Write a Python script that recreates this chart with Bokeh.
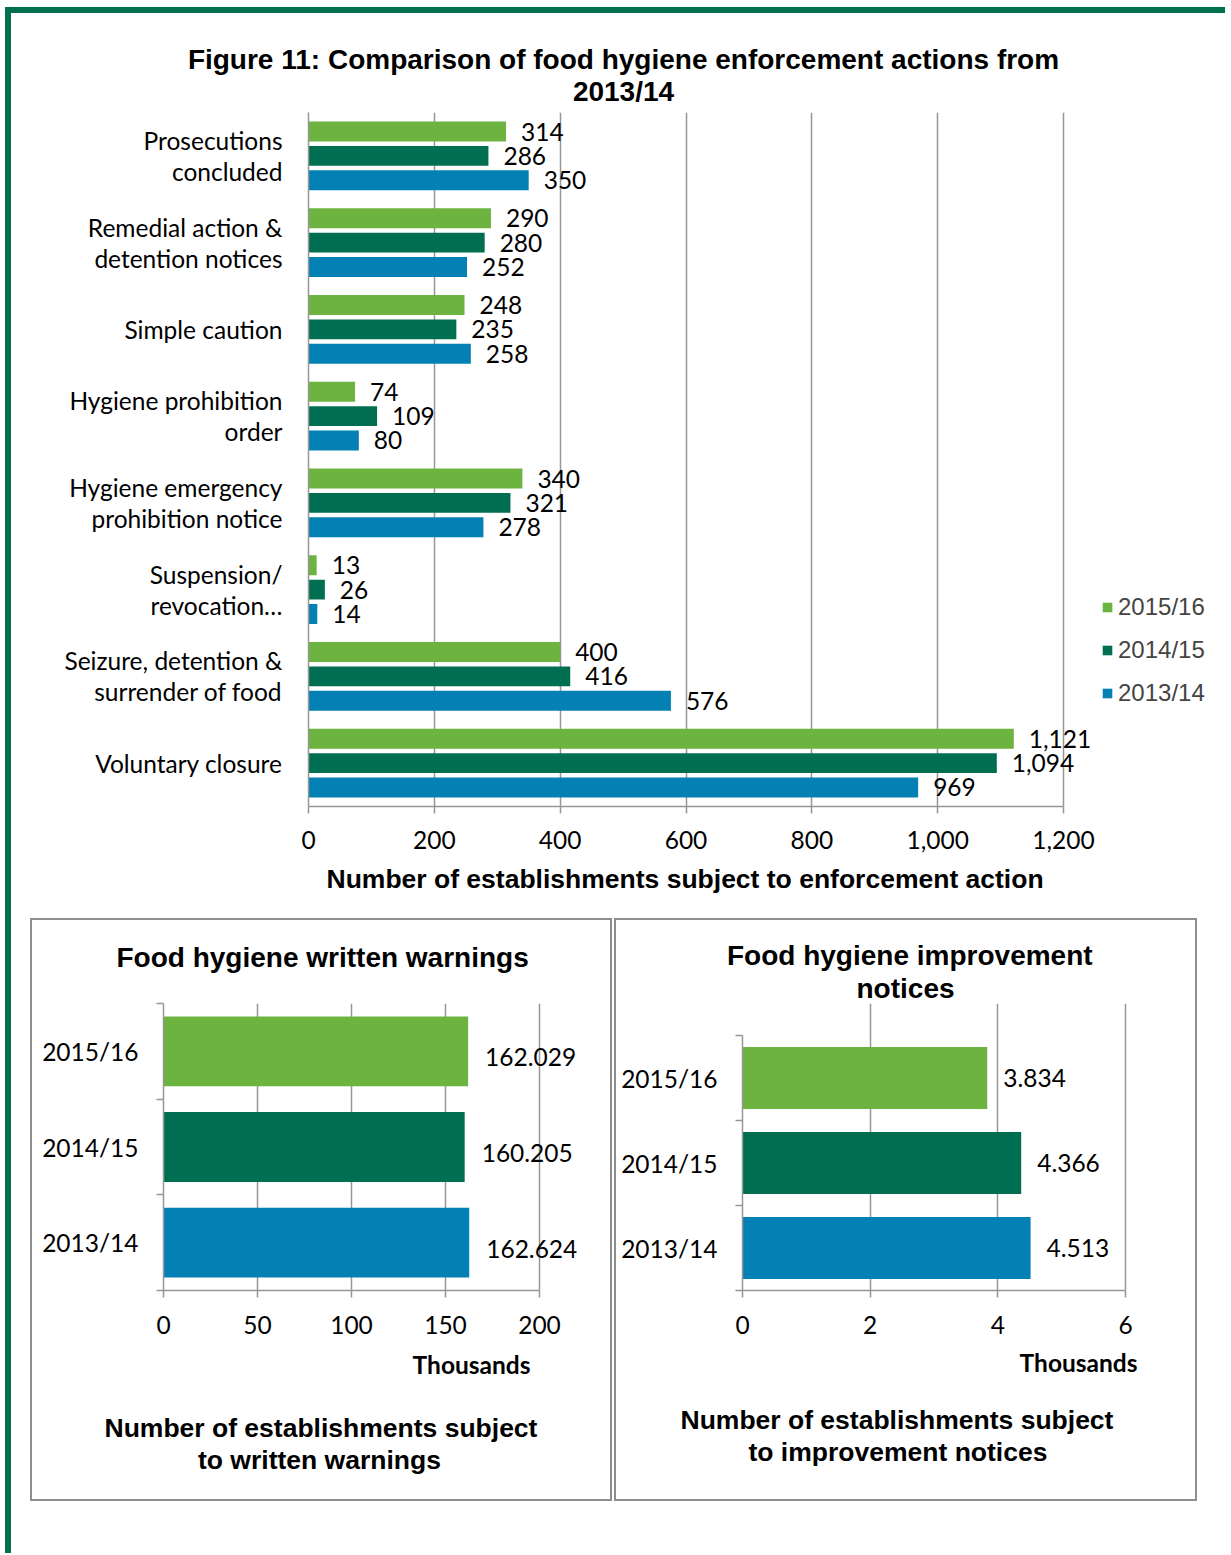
from bokeh.plotting import figure
from bokeh.models import (ColumnDataSource, FactorRange, Range1d, FixedTicker, NumeralTickFormatter,
                          LabelSet, Legend, LegendItem, Div, Spacer, Title)
from bokeh.layouts import row, column
from bokeh.transform import dodge
from bokeh.core.properties import value
from bokeh.embed import file_html
from bokeh.resources import INLINE

# ---------------- data ----------------
categories = ["Prosecutions\nconcluded", "Remedial action &\ndetention notices", "Simple caution",
              "Hygiene prohibition\norder", "Hygiene emergency\nprohibition notice",
              "Suspension/\nrevocation\u2026", "Seizure, detention &\nsurrender of food", "Voluntary closure"]
series_names = ["2015/16", "2014/15", "2013/14"]
values_2015_16 = [314, 290, 248, 74, 340, 13, 400, 1121]
values_2014_15 = [286, 280, 235, 109, 321, 26, 416, 1094]
values_2013_14 = [350, 252, 258, 80, 278, 14, 576, 969]
main_ticks = [0, 200, 400, 600, 800, 1000, 1200]

ww_periods = ["2015/16", "2014/15", "2013/14"]
ww_thousands = [162.029, 160.205, 162.624]
ww_ticks = [0, 50, 100, 150, 200]

in_periods = ["2015/16", "2014/15", "2013/14"]
in_thousands = [3.834, 4.366, 4.513]
in_ticks = [0, 2, 4, 6]

# ---------------- style ----------------
LIGHT = "#6DB33F"
DARK = "#006F51"
BLUE = "#0481B4"
FRAME_GREEN = "#00704F"
GRID = "#979797"
BOX = "#8E8E8E"
CAL = "Lato"
ARIAL = "Liberation Sans"
COLORS = [LIGHT, DARK, BLUE]
CAL_SIZE = "24.5px"


def style_common(p):
    p.outline_line_color = None
    p.ygrid.grid_line_color = None
    p.xgrid.grid_line_color = GRID
    p.xgrid.grid_line_width = 1.5
    for ax in (p.xaxis, p.yaxis):
        ax.axis_line_color = GRID
        ax.axis_line_width = 1.5
        ax.major_label_text_font = CAL
        ax.major_label_text_font_size = CAL_SIZE
        ax.major_label_text_color = "#000000"
    p.xaxis.minor_tick_line_color = None
    p.xaxis.major_tick_line_color = GRID
    p.xaxis.major_tick_line_width = 1.5
    p.xaxis.major_tick_out = 7
    p.xaxis.major_tick_in = 0
    p.yaxis.major_tick_line_color = None
    p.yaxis.major_tick_out = 0
    p.yaxis.major_tick_in = 0


def title(text, offset, size, standoff=0, align="left", font=ARIAL):
    return Title(text=text, align=align, offset=offset, standoff=standoff, text_font=font,
                 text_font_style="bold", text_font_size=size, text_color="#000000")


def spacer_title(standoff):
    return Title(text=" ", standoff=standoff, text_font_size="1px")


# ---------------- main chart ----------------
MAIN_PX = 755 / 1200          # pixels per unit on the main value axis
main = figure(width=1209, height=802, x_range=Range1d(0, 912 / MAIN_PX),
              y_range=FactorRange(factors=list(reversed(categories))),
              output_backend="svg", toolbar_location=None,
              min_border_left=297, min_border_right=0, min_border_top=4, min_border_bottom=104)
style_common(main)
tk = FixedTicker(ticks=main_ticks)
main.xaxis.ticker = tk
main.xaxis.bounds = (main_ticks[0], main_ticks[-1])
main.xgrid.ticker = tk
main.xgrid.bounds = (main_ticks[0] - 1, main_ticks[-1] + 1)
main.xaxis.formatter = NumeralTickFormatter(format="0,0")
main.xaxis.major_label_standoff = 17
main.yaxis.major_label_standoff = 26
main.yaxis.major_label_text_line_height = 1.07
main.yaxis.minor_tick_line_color = None
main.add_layout(title("Number of establishments subject to enforcement action", 18, "26.5px", 20), "below")

src = ColumnDataSource(dict(
    cat=categories,
    s1=values_2015_16, s2=values_2014_15, s3=values_2013_14,
    t1=[f"{v:,}" for v in values_2015_16],
    t2=[f"{v:,}" for v in values_2014_15],
    t3=[f"{v:,}" for v in values_2013_14],
))
offsets = [0.28, 0.0, -0.28]
rends = []
for key, tkey, off, col in zip(["s1", "s2", "s3"], ["t1", "t2", "t3"], offsets, COLORS):
    r = main.hbar(y=dodge("cat", off, range=main.y_range), right=key, height=0.23,
                  fill_color=col, line_color=None, source=src)
    rends.append(r)
    main.add_layout(LabelSet(x=key, y=dodge("cat", off, range=main.y_range), text=tkey, source=src,
                             x_offset=15, text_baseline="middle", text_font=value(CAL),
                             text_font_size=value(CAL_SIZE), text_color="#000000"))

legend = Legend(items=[LegendItem(label=s, renderers=[r]) for s, r in zip(series_names, rends)],
                location=(793, 99), glyph_width=12, glyph_height=12,
                label_text_font=ARIAL, label_text_font_size="24px", label_standoff=5,
                spacing=15, padding=0, margin=0, border_line_color=None,
                background_fill_alpha=0)
main.add_layout(legend)

main_title = Div(
    text=('<div style="display:block;box-sizing:content-box;width:1193px;margin:0;'
          'padding:31px 0 0 16px;font-family:\'Liberation Sans\';'
          'font-weight:bold;font-size:28px;line-height:32px;text-align:center;color:#000;'
          'white-space:nowrap;">Figure 11: Comparison of food hygiene enforcement actions from'
          '<br>2013/14</div>'),
    width=1209, height=95, margin=0)

MBT, MBB = 83, 213


# ---------------- sub charts ----------------
def sub_chart(periods, vals, ticks, width, height, mbl, mbr, px, data_h, label_dx, label_dy):
    n = len(periods)
    frame_h = height - MBT - MBB
    p = figure(width=width, height=height,
               x_range=Range1d(ticks[0], ticks[0] + (width - mbl - mbr) / px),
               y_range=Range1d(0, n * frame_h / data_h),
               output_backend="svg", toolbar_location=None,
               min_border_left=mbl, min_border_right=mbr, min_border_top=MBT, min_border_bottom=MBB,
               styles={"border": f"2px solid {BOX}"})
    style_common(p)
    t = FixedTicker(ticks=ticks)
    p.xaxis.ticker = t
    p.xaxis.bounds = (ticks[0], ticks[-1])
    p.xgrid.ticker = t
    p.xgrid.bounds = (ticks[0] - 0.01 * ticks[-1], ticks[-1] * 1.01)
    p.xaxis.major_label_standoff = 18
    ypos = [n - 0.5 - i for i in range(n)]
    p.yaxis.ticker = FixedTicker(ticks=ypos, minor_ticks=list(range(n + 1)))
    p.yaxis.major_label_overrides = {y: lab for y, lab in zip(ypos, periods)}
    p.yaxis.bounds = (0, n)
    p.yaxis.minor_tick_line_color = GRID
    p.yaxis.minor_tick_line_width = 1.5
    p.yaxis.minor_tick_out = 7
    p.yaxis.minor_tick_in = 0
    p.yaxis.major_label_standoff = 18
    s = ColumnDataSource(dict(y=ypos, val=vals, lab=[f"{v:.3f}" for v in vals], col=COLORS))
    p.hbar(y="y", right="val", height=0.73, fill_color="col", line_color=None, source=s)
    p.add_layout(LabelSet(x="val", y="y", text="lab", source=s, x_offset=label_dx, y_offset=label_dy,
                          text_baseline="middle", text_font=value(CAL),
                          text_font_size=value(CAL_SIZE), text_color="#000000"))
    return p


# written warnings: 0..200 over 376 px, categories over 287 px
left = sub_chart(ww_periods, ww_thousands, ww_ticks, 582, 583, 131, 8, 376 / 200, 287, 17, -6)
left.add_layout(spacer_title(28), "above")
left.add_layout(title("Food hygiene written warnings", -47, "28px"), "above")
left.add_layout(title("Thousands", 76, CAL_SIZE, 22, align="right", font=CAL), "below")
left.add_layout(spacer_title(18), "below")
left.add_layout(title("Number of establishments subject", -59, "26.5px"), "below")
left.add_layout(title("to written warnings", 34.5, "26.5px"), "below")

# improvement notices: 0..6 over 383 px, categories over 255 px
right = sub_chart(in_periods, in_thousands, in_ticks, 583, 583, 126, 30, 383 / 6, 255, 16, 0)
right.add_layout(title("notices", 114, "28px"), "above")
right.add_layout(title("Food hygiene improvement", -15.5, "28px"), "above")
right.add_layout(title("Thousands", 32, CAL_SIZE, 18, align="right", font=CAL), "below")
right.add_layout(spacer_title(14), "below")
right.add_layout(title("Number of establishments subject", -62, "26.5px"), "below")
right.add_layout(title("to improvement notices", 6, "26.5px"), "below")

# ---------------- page layout ----------------
top_bar = Div(text="", width=1220, height=6, margin=0, styles={"background-color": FRAME_GREEN})
left_bar = Div(text="", width=6, height=1540, margin=0, styles={"background-color": FRAME_GREEN})
bottom_row = row(Spacer(width=19, height=10), left, Spacer(width=2, height=10), right, spacing=0)
content = column(main_title, main, Spacer(width=10, height=8), bottom_row, spacing=0)
page = column(Spacer(width=10, height=7),
              row(Spacer(width=5, height=10), column(top_bar, row(left_bar, content, spacing=0), spacing=0),
                  spacing=0),
              spacing=0)

open("out.html", "w").write(file_html(page, INLINE))
